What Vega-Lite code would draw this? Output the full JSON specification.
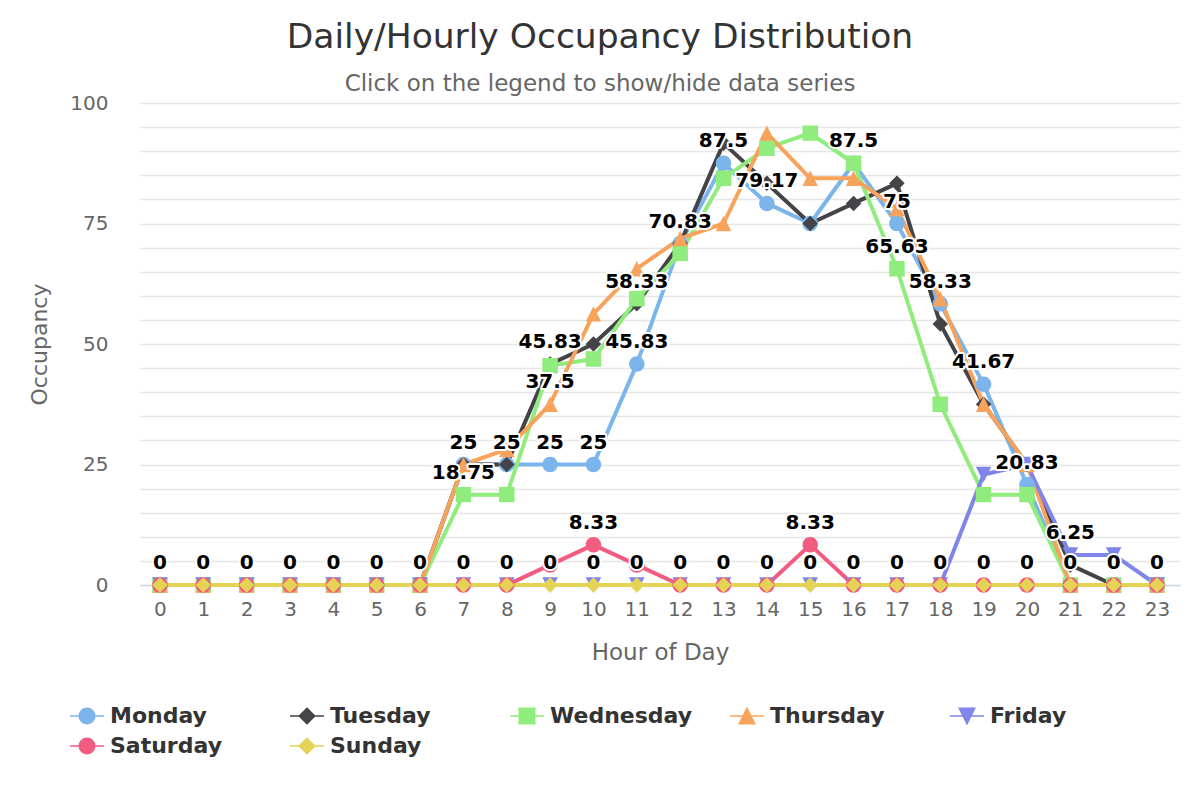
{
  "$schema": "https://vega.github.io/schema/vega-lite/v6.json",
  "width": 1040,
  "height": 482,
  "autosize": {"type": "none"},
  "padding": {"left": 140, "top": 103, "right": 20, "bottom": 215},
  "background": "white",
  "config": {
    "view": {"stroke": null},
    "font": "DejaVu Sans"
  },
  "title": {
    "text": "Daily/Hourly Occupancy Distribution",
    "subtitle": "Click on the legend to show/hide data series",
    "fontSize": 34.5,
    "fontWeight": "normal",
    "color": "#333333",
    "subtitleFontSize": 23,
    "subtitleColor": "#666666",
    "subtitlePadding": 18,
    "anchor": "middle",
    "frame": "group",
    "dx": -60,
    "offset": -4
  },
  "datasets": {
    "occ": [
      {"hour": 0, "Monday": 0, "Tuesday": 0, "Wednesday": 0, "Thursday": 0, "Friday": 0, "Saturday": 0, "Sunday": 0},
      {"hour": 1, "Monday": 0, "Tuesday": 0, "Wednesday": 0, "Thursday": 0, "Friday": 0, "Saturday": 0, "Sunday": 0},
      {"hour": 2, "Monday": 0, "Tuesday": 0, "Wednesday": 0, "Thursday": 0, "Friday": 0, "Saturday": 0, "Sunday": 0},
      {"hour": 3, "Monday": 0, "Tuesday": 0, "Wednesday": 0, "Thursday": 0, "Friday": 0, "Saturday": 0, "Sunday": 0},
      {"hour": 4, "Monday": 0, "Tuesday": 0, "Wednesday": 0, "Thursday": 0, "Friday": 0, "Saturday": 0, "Sunday": 0},
      {"hour": 5, "Monday": 0, "Tuesday": 0, "Wednesday": 0, "Thursday": 0, "Friday": 0, "Saturday": 0, "Sunday": 0},
      {"hour": 6, "Monday": 0, "Tuesday": 0, "Wednesday": 0, "Thursday": 0, "Friday": 0, "Saturday": 0, "Sunday": 0},
      {"hour": 7, "Monday": 25, "Tuesday": 25, "Wednesday": 18.75, "Thursday": 25, "Friday": 0, "Saturday": 0, "Sunday": 0},
      {"hour": 8, "Monday": 25, "Tuesday": 25, "Wednesday": 18.75, "Thursday": 28.13, "Friday": 0, "Saturday": 0, "Sunday": 0},
      {"hour": 9, "Monday": 25, "Tuesday": 45.83, "Wednesday": 45.5, "Thursday": 37.5, "Friday": 0, "Saturday": 4.17, "Sunday": 0},
      {"hour": 10, "Monday": 25, "Tuesday": 50, "Wednesday": 46.88, "Thursday": 56.25, "Friday": 0, "Saturday": 8.33, "Sunday": 0},
      {"hour": 11, "Monday": 45.83, "Tuesday": 58.33, "Wednesday": 59.38, "Thursday": 65.63, "Friday": 0, "Saturday": 4.17, "Sunday": 0},
      {"hour": 12, "Monday": 70.83, "Tuesday": 70.83, "Wednesday": 68.75, "Thursday": 71.88, "Friday": 0, "Saturday": 0, "Sunday": 0},
      {"hour": 13, "Monday": 87.5, "Tuesday": 91.67, "Wednesday": 84.38, "Thursday": 75, "Friday": 0, "Saturday": 0, "Sunday": 0},
      {"hour": 14, "Monday": 79.17, "Tuesday": 83.33, "Wednesday": 90.63, "Thursday": 93.75, "Friday": 0, "Saturday": 0, "Sunday": 0},
      {"hour": 15, "Monday": 75, "Tuesday": 75, "Wednesday": 93.75, "Thursday": 84.38, "Friday": 0, "Saturday": 8.33, "Sunday": 0},
      {"hour": 16, "Monday": 87.5, "Tuesday": 79.17, "Wednesday": 87.5, "Thursday": 84.38, "Friday": 0, "Saturday": 0, "Sunday": 0},
      {"hour": 17, "Monday": 75, "Tuesday": 83.33, "Wednesday": 65.63, "Thursday": 78.13, "Friday": 0, "Saturday": 0, "Sunday": 0},
      {"hour": 18, "Monday": 58.33, "Tuesday": 54.17, "Wednesday": 37.5, "Thursday": 59.38, "Friday": 0, "Saturday": 0, "Sunday": 0},
      {"hour": 19, "Monday": 41.67, "Tuesday": 37.5, "Wednesday": 18.75, "Thursday": 37.5, "Friday": 22.92, "Saturday": 0, "Sunday": 0},
      {"hour": 20, "Monday": 20.83, "Tuesday": 25, "Wednesday": 18.75, "Thursday": 25, "Friday": 25, "Saturday": 0, "Sunday": 0},
      {"hour": 21, "Monday": 0, "Tuesday": 4.17, "Wednesday": 0, "Thursday": 0, "Friday": 6.25, "Saturday": 0, "Sunday": 0},
      {"hour": 22, "Monday": 0, "Tuesday": 0, "Wednesday": 0, "Thursday": 0, "Friday": 6.25, "Saturday": 0, "Sunday": 0},
      {"hour": 23, "Monday": 0, "Tuesday": 0, "Wednesday": 0, "Thursday": 0, "Friday": 0, "Saturday": 0, "Sunday": 0}
    ],
    "labels": [
      {"hour": 0, "value": 0}, {"hour": 1, "value": 0}, {"hour": 2, "value": 0}, {"hour": 3, "value": 0},
      {"hour": 4, "value": 0}, {"hour": 5, "value": 0}, {"hour": 6, "value": 0}, {"hour": 7, "value": 0},
      {"hour": 8, "value": 0}, {"hour": 9, "value": 0}, {"hour": 10, "value": 0}, {"hour": 11, "value": 0},
      {"hour": 12, "value": 0}, {"hour": 13, "value": 0}, {"hour": 14, "value": 0}, {"hour": 15, "value": 0},
      {"hour": 16, "value": 0}, {"hour": 17, "value": 0}, {"hour": 18, "value": 0}, {"hour": 19, "value": 0},
      {"hour": 20, "value": 0}, {"hour": 21, "value": 0}, {"hour": 22, "value": 0}, {"hour": 23, "value": 0},
      {"hour": 7, "value": 25}, {"hour": 7, "value": 18.75},
      {"hour": 8, "value": 25},
      {"hour": 9, "value": 45.83}, {"hour": 9, "value": 37.5}, {"hour": 9, "value": 25},
      {"hour": 10, "value": 25}, {"hour": 10, "value": 8.33},
      {"hour": 11, "value": 58.33}, {"hour": 11, "value": 45.83},
      {"hour": 12, "value": 70.83},
      {"hour": 13, "value": 87.5},
      {"hour": 14, "value": 79.17},
      {"hour": 15, "value": 8.33},
      {"hour": 16, "value": 87.5},
      {"hour": 17, "value": 75}, {"hour": 17, "value": 65.63},
      {"hour": 18, "value": 58.33},
      {"hour": 19, "value": 41.67},
      {"hour": 20, "value": 20.83},
      {"hour": 21, "value": 6.25}
    ]
  },
  "encoding": {
    "x": {
      "field": "hour",
      "type": "quantitative",
      "scale": {"domain": [-0.46, 23.53], "nice": false, "zero": false},
      "axis": {
        "values": [0, 1, 2, 3, 4, 5, 6, 7, 8, 9, 10, 11, 12, 13, 14, 15, 16, 17, 18, 19, 20, 21, 22, 23],
        "format": "d",
        "grid": false,
        "ticks": false,
        "domainColor": "#ccd6eb",
        "domainWidth": 1.5,
        "labelFontSize": 20,
        "labelColor": "#666666",
        "labelPadding": 14,
        "title": "Hour of Day",
        "titleFontSize": 23,
        "titleFontWeight": "normal",
        "titleColor": "#666666",
        "titlePadding": 22
      }
    },
    "y": {
      "field": "occupancy",
      "type": "quantitative",
      "scale": {"domain": [0, 100], "nice": false},
      "axis": {
        "values": [0, 5, 10, 15, 20, 25, 30, 35, 40, 45, 50, 55, 60, 65, 70, 75, 80, 85, 90, 95, 100],
        "labelExpr": "datum.value % 25 === 0 ? datum.label : ''",
        "grid": true,
        "gridColor": "#e6e6e6",
        "gridWidth": 1.3,
        "domain": false,
        "ticks": false,
        "labelFontSize": 20,
        "labelColor": "#666666",
        "labelPadding": 32,
        "title": "Occupancy",
        "titleFontSize": 22,
        "titleFontWeight": "normal",
        "titleColor": "#666666",
        "titlePadding": 18
      }
    }
  },
  "layer": [
    {
      "data": {"name": "occ"},
      "transform": [
        {"fold": ["Monday", "Tuesday", "Wednesday", "Thursday", "Friday", "Saturday", "Sunday"], "as": ["day", "occupancy"]}
      ],
      "mark": {"type": "line", "strokeWidth": 4, "strokeJoin": "round"},
      "encoding": {
        "color": {
          "field": "day",
          "type": "nominal",
          "scale": {
            "domain": ["Monday", "Tuesday", "Wednesday", "Thursday", "Friday", "Saturday", "Sunday"],
            "range": ["#7cb5ec", "#434348", "#90ed7d", "#f7a35c", "#8085e9", "#f15c80", "#e4d354"]
          }
        }
      }
    },
    {
      "data": {"name": "occ"},
      "transform": [
        {"fold": ["Monday", "Tuesday", "Wednesday", "Thursday", "Friday", "Saturday", "Sunday"], "as": ["day", "occupancy"]}
      ],
      "mark": {"type": "point", "filled": true, "opacity": 1, "size": 240},
      "encoding": {
        "color": {
          "field": "day",
          "type": "nominal",
          "scale": {
            "domain": ["Monday", "Tuesday", "Wednesday", "Thursday", "Friday", "Saturday", "Sunday"],
            "range": ["#7cb5ec", "#434348", "#90ed7d", "#f7a35c", "#8085e9", "#f15c80", "#e4d354"]
          },
          "legend": {
            "title": null,
            "orient": "none",
            "legendX": -64,
            "legendY": 602,
            "direction": "horizontal",
            "columns": 5,
            "gridAlign": "all",
            "columnPadding": 33,
            "rowPadding": 8,
            "padding": 0,
            "symbolSize": 240,
            "labelOffset": 12,
            "labelFontSize": 22,
            "labelFontWeight": "bold",
            "labelColor": "#333333",
            "labelLimit": 300,
            "encode": {
              "symbols": {
                "update": {
                  "stroke": {"scale": "color", "field": "value"},
                  "strokeWidth": {"value": 4}
                }
              }
            }
          }
        },
        "shape": {
          "field": "day",
          "type": "nominal",
          "scale": {
            "domain": ["Monday", "Tuesday", "Wednesday", "Thursday", "Friday", "Saturday", "Sunday"],
            "range": [
              "M-2.2,0L2.2,0M1,0A1,1,0,1,1,-1,0A1,1,0,1,1,1,0Z",
              "M-2.2,0L2.2,0M0,-1L1,0L0,1L-1,0Z",
              "M-2.2,0L2.2,0M-1,-1L1,-1L1,1L-1,1Z",
              "M-2.2,0L2.2,0M0,-1L1,1L-1,1Z",
              "M-2.2,0L2.2,0M-1,-1L1,-1L0,1Z",
              "M-2.2,0L2.2,0M1,0A1,1,0,1,1,-1,0A1,1,0,1,1,1,0Z",
              "M-2.2,0L2.2,0M0,-1L1,0L0,1L-1,0Z"
            ]
          },
          "legend": {"title": null}
        }
      }
    },
    {
      "data": {"name": "labels"},
      "mark": {"type": "text", "dy": -22, "baseline": "middle", "fontSize": 20, "fontWeight": "bold", "fill": "white", "stroke": "white", "strokeWidth": 4, "strokeJoin": "round"},
      "encoding": {
        "y": {"field": "value", "type": "quantitative"},
        "text": {"field": "value", "type": "quantitative", "format": ".2~f"}
      }
    },
    {
      "data": {"name": "labels"},
      "mark": {"type": "text", "dy": -22, "baseline": "middle", "fontSize": 20, "fontWeight": "bold", "fill": "#000000"},
      "encoding": {
        "y": {"field": "value", "type": "quantitative"},
        "text": {"field": "value", "type": "quantitative", "format": ".2~f"}
      }
    }
  ]
}
